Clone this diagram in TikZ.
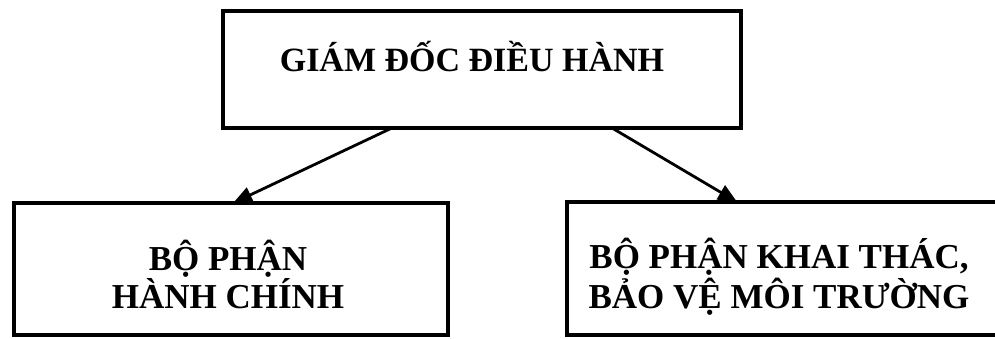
\documentclass[tikz,border=0pt]{standalone}
\usepackage{fontspec}
\setmainfont{Liberation Serif}
\usetikzlibrary{arrows.meta,calc}
\begin{document}
\begin{tikzpicture}[x=1pt,y=-1pt,
  boxnode/.style={draw,line width=4pt,rectangle,inner sep=0pt,outer sep=0pt},
  lbl/.style={font=\bfseries\fontsize{34}{39}\selectfont,inner sep=0pt,align=center,anchor=base},
  conn/.style={line width=2.8pt,-{Triangle[length=19pt,width=16pt]}}]
\useasboundingbox (0,0) rectangle (995,339);
\node[boxnode,minimum width=518pt,minimum height=117pt] (top) at (482,69.5) {};
\node[boxnode,minimum width=434pt,minimum height=132pt] (left) at (231,269) {};
\node[boxnode,minimum width=443pt,minimum height=133pt] (right) at (788.5,268.5) {};
\node[lbl] (toptext) at (472,72) {GIÁM ĐỐC ĐIỀU HÀNH};
\node[lbl,font=\bfseries\fontsize{35}{39}\selectfont] (lefttext1) at (228,270) {BỘ PHẬN};
\node[lbl,font=\bfseries\fontsize{35}{39}\selectfont] (lefttext2) at (228,308) {HÀNH CHÍNH};
\node[lbl,font=\bfseries\fontsize{35}{39}\selectfont] (righttext1) at (779,268) {BỘ PHẬN KHAI THÁC,};
\node[lbl,font=\bfseries\fontsize{35}{39}\selectfont] (righttext2) at (779,308) {BẢO VỆ MÔI TRƯỜNG};
\coordinate (s1) at ($(top.south west)!0.326!(top.south east)$);
\coordinate (s2) at ($(top.south west)!0.751!(top.south east)$);
\coordinate (e1) at ($(left.north west)!0.505!(left.north east)$);
\coordinate (e2) at ($(right.north west)!0.384!(right.north east)$);
\draw[conn] (s1) -- (e1);
\draw[conn] (s2) -- (e2);
\end{tikzpicture}
\end{document}
